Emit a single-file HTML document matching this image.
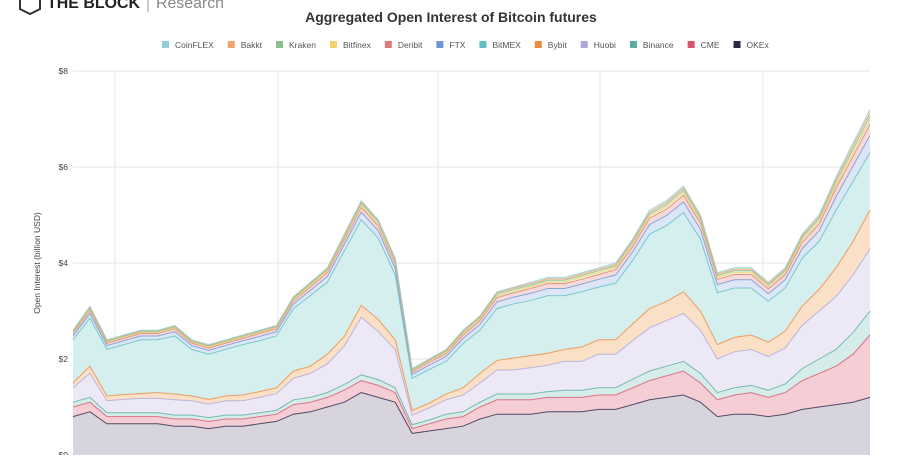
<!DOCTYPE html>
<html><head><meta charset="utf-8">
<style>
body{margin:0;width:900px;height:455px;overflow:hidden;background:#fff;font-family:"Liberation Sans",sans-serif;}
#wrap{position:relative;width:900px;height:455px;}
</style></head>
<body>
<div id="wrap">
<svg id="chart" width="900" height="455" viewBox="0 0 900 455">
  <g>
    <path d="M30,-6 L40,-1 L40,9 L30,14 L20,9 L20,-1 Z" fill="none" stroke="#333" stroke-width="2"/>
    <text x="47" y="8" font-size="16" font-weight="bold" fill="#222" textLength="93" lengthAdjust="spacingAndGlyphs">THE BLOCK</text>
    <line x1="148" y1="-6" x2="148" y2="12" stroke="#999" stroke-width="1"/>
    <text x="156" y="8" font-size="16" fill="#888" textLength="68" lengthAdjust="spacingAndGlyphs">Research</text>
  </g>
  <text x="451" y="22" text-anchor="middle" font-size="14" font-weight="bold" fill="#333">Aggregated Open Interest of Bitcoin futures</text>
  <g id="legend"></g>
  <g id="grid"></g>
  <g id="areas"></g>
  <g id="yaxis"></g>
  <text transform="translate(40,263) rotate(-90)" text-anchor="middle" font-size="8.5" fill="#444">Open Interest (billion USD)</text>
</svg>
</div>
<script>
const seriesNames=["OKEx","CME","Binance","Huobi","Bybit","BitMEX","FTX","Deribit","Bitfinex","Kraken","Bakkt","CoinFLEX"];
const legendOrder=["CoinFLEX","Bakkt","Kraken","Bitfinex","Deribit","FTX","BitMEX","Bybit","Huobi","Binance","CME","OKEx"];
const yTicks=[0,2,4,6,8];
const yTickLabels=["$0","$2","$4","$6","$8"];
const okex=[0.8,0.9,0.65,0.65,0.65,0.65,0.6,0.6,0.55,0.6,0.6,0.65,0.7,0.85,0.9,1.0,1.1,1.3,1.2,1.1,0.45,0.5,0.55,0.6,0.75,0.85,0.85,0.85,0.9,0.9,0.9,0.95,0.95,1.05,1.15,1.2,1.25,1.1,0.8,0.85,0.85,0.8,0.85,0.95,1.0,1.05,1.1,1.2];
const cme=[0.2,0.2,0.15,0.15,0.15,0.15,0.15,0.15,0.15,0.15,0.15,0.15,0.15,0.2,0.2,0.2,0.25,0.25,0.25,0.2,0.1,0.15,0.2,0.2,0.25,0.3,0.3,0.3,0.3,0.3,0.3,0.3,0.3,0.35,0.4,0.45,0.5,0.4,0.35,0.4,0.45,0.4,0.45,0.6,0.7,0.8,1.0,1.3];
const binance=[0.1,0.1,0.08,0.08,0.08,0.08,0.08,0.08,0.08,0.08,0.08,0.08,0.08,0.1,0.1,0.1,0.12,0.12,0.12,0.1,0.08,0.08,0.1,0.1,0.1,0.12,0.12,0.12,0.12,0.15,0.15,0.15,0.15,0.18,0.2,0.2,0.2,0.2,0.15,0.15,0.15,0.15,0.18,0.25,0.3,0.35,0.45,0.5];
const huobi=[0.3,0.5,0.25,0.28,0.3,0.3,0.32,0.3,0.28,0.3,0.3,0.32,0.35,0.45,0.5,0.6,0.8,1.2,1.0,0.8,0.2,0.25,0.3,0.35,0.4,0.5,0.5,0.55,0.55,0.6,0.6,0.7,0.7,0.8,0.9,0.95,1.0,0.9,0.7,0.75,0.75,0.7,0.75,0.9,1.0,1.1,1.2,1.3];
const bybit=[0.1,0.15,0.1,0.1,0.1,0.12,0.12,0.1,0.1,0.1,0.12,0.12,0.12,0.15,0.15,0.2,0.2,0.25,0.25,0.2,0.1,0.1,0.12,0.15,0.2,0.2,0.25,0.25,0.25,0.25,0.3,0.3,0.3,0.35,0.4,0.4,0.45,0.4,0.3,0.3,0.3,0.3,0.35,0.4,0.45,0.6,0.7,0.8];
const bitmex=[0.9,1.0,0.97,1.04,1.12,1.1,1.21,0.97,0.94,0.97,1.05,1.06,1.08,1.3,1.47,1.5,1.78,1.78,1.7,1.35,0.67,0.7,0.68,0.92,0.9,1.08,1.13,1.15,1.2,1.12,1.15,1.1,1.18,1.32,1.55,1.58,1.65,1.5,1.08,1.03,0.98,0.85,0.9,1.0,1.0,1.2,1.25,1.2];
const ftx=[0.08,0.1,0.08,0.08,0.08,0.08,0.09,0.08,0.08,0.08,0.08,0.09,0.09,0.1,0.11,0.12,0.14,0.16,0.15,0.14,0.08,0.09,0.1,0.11,0.12,0.14,0.14,0.15,0.15,0.15,0.16,0.16,0.17,0.18,0.2,0.21,0.22,0.2,0.17,0.17,0.17,0.16,0.17,0.2,0.22,0.28,0.32,0.36];
const deribit=[0.05,0.06,0.05,0.05,0.05,0.05,0.06,0.05,0.05,0.05,0.05,0.06,0.06,0.06,0.07,0.08,0.09,0.1,0.1,0.09,0.05,0.06,0.06,0.07,0.08,0.09,0.09,0.1,0.1,0.1,0.1,0.1,0.11,0.11,0.13,0.13,0.14,0.13,0.11,0.11,0.11,0.1,0.11,0.13,0.14,0.18,0.2,0.23];
const bitfinex=[0.02,0.02,0.02,0.02,0.02,0.02,0.02,0.02,0.02,0.02,0.02,0.02,0.02,0.02,0.03,0.03,0.03,0.03,0.03,0.03,0.02,0.02,0.02,0.03,0.03,0.03,0.03,0.03,0.03,0.03,0.04,0.04,0.04,0.04,0.04,0.05,0.05,0.04,0.04,0.04,0.04,0.04,0.04,0.05,0.05,0.06,0.07,0.08];
const kraken=[0.02,0.03,0.02,0.02,0.02,0.02,0.02,0.02,0.02,0.02,0.02,0.02,0.02,0.03,0.03,0.03,0.04,0.05,0.05,0.04,0.02,0.02,0.03,0.03,0.03,0.04,0.04,0.04,0.04,0.04,0.04,0.04,0.04,0.05,0.05,0.05,0.06,0.05,0.04,0.04,0.04,0.04,0.04,0.05,0.06,0.07,0.08,0.09];
const bakkt=[0.02,0.02,0.02,0.02,0.02,0.02,0.02,0.02,0.02,0.02,0.02,0.02,0.02,0.02,0.02,0.02,0.03,0.03,0.03,0.03,0.02,0.02,0.02,0.02,0.02,0.03,0.03,0.03,0.03,0.03,0.03,0.03,0.03,0.04,0.04,0.04,0.04,0.04,0.03,0.03,0.03,0.03,0.03,0.04,0.04,0.06,0.07,0.07];
const coinflex=[0.01,0.02,0.01,0.01,0.01,0.01,0.01,0.01,0.01,0.01,0.01,0.01,0.01,0.02,0.02,0.02,0.02,0.03,0.02,0.02,0.01,0.01,0.02,0.02,0.02,0.02,0.02,0.03,0.03,0.03,0.03,0.03,0.03,0.03,0.04,0.04,0.04,0.04,0.03,0.03,0.03,0.03,0.03,0.03,0.04,0.05,0.06,0.07];
const seriesData=[okex,cme,binance,huobi,bybit,bitmex,ftx,deribit,bitfinex,kraken,bakkt,coinflex];
const colors={OKEx:"#2e2848",CME:"#d9566b",Binance:"#5aae9f",Huobi:"#aea7d8",Bybit:"#ee8a3e",BitMEX:"#5fbfc4",FTX:"#6f95d6",Deribit:"#df7b7b",Bitfinex:"#f0d36a",Kraken:"#8cbf8c",Bakkt:"#eea46c",CoinFLEX:"#8fd0d6"};
const fills={OKEx:"#d7d4de",CME:"#f4cdd5",Binance:"#d6ecea",Huobi:"#ece8f6",Bybit:"#fbe0c8",BitMEX:"#d5efef",FTX:"#dce6f7",Deribit:"#f6dada",Bitfinex:"#fbf3d4",Kraken:"#dfeedf",Bakkt:"#fbe4d2",CoinFLEX:"#dff2f4"};

const X0=73,X1=870,Y0=455,PX=48;
const N=okex.length;
const xs=i=>X0+(X1-X0)*i/(N-1);
const ys=v=>Y0-v*PX;
const NS="http://www.w3.org/2000/svg";
function mk(tag,attrs,parent){const e=document.createElementNS(NS,tag);for(const k in attrs)e.setAttribute(k,attrs[k]);parent.appendChild(e);return e;}

const grid=document.getElementById('grid');
[115,278,438,600,763].forEach(x=>{mk('line',{x1:x,y1:71,x2:x,y2:455,stroke:'#e6e6e6','stroke-width':1},grid);});
const yax=document.getElementById('yaxis');
yTicks.forEach((t,i)=>{
  if(t>0){const l=mk('line',{x1:X0,y1:ys(t),x2:X1,y2:ys(t),stroke:'#e6e6e6','stroke-width':1},grid);
  
  }
  const tx=mk('text',{x:68,y:ys(t)+3,'text-anchor':'end','font-size':8.5,fill:'#444'},yax);
  tx.textContent=yTickLabels[i];
  
  
});

const areas=document.getElementById('areas');
let base=new Array(N).fill(0);
const tops=[];
seriesData.forEach((arr,si)=>{
  const top=arr.map((v,i)=>base[i]+v);
  let d='M'+xs(0)+','+ys(top[0]);
  for(let i=1;i<N;i++)d+=' L'+xs(i)+','+ys(top[i]);
  for(let i=N-1;i>=0;i--)d+=' L'+xs(i)+','+ys(base[i]);
  d+=' Z';
  const name=seriesNames[si];
  const p=mk('path',{d:d,fill:fills[name],stroke:'none'},areas);
  
  
  tops.push(top);base=top;
});
tops.forEach((top,si)=>{
  const name=seriesNames[si];
  let d='M'+xs(0)+','+ys(top[0]);
  for(let i=1;i<N;i++)d+=' L'+xs(i)+','+ys(top[i]);
  const l=mk('path',{d:d,fill:'none',stroke:colors[name],'stroke-width':1,'stroke-opacity':0.8},areas);
  
  
});

const legend=document.getElementById('legend');
let cx=162;
legendOrder.forEach((name,i)=>{
  const g=mk('g',{},legend);
  
  
  mk('rect',{x:cx,y:41,width:7,height:7,fill:colors[name]},g);
  const t=mk('text',{x:cx+13,y:48,'font-size':8.5,fill:'#555'},g);
  t.textContent=name;
  cx+=13+t.getComputedTextLength()+14;
});
</script>
</body></html>
